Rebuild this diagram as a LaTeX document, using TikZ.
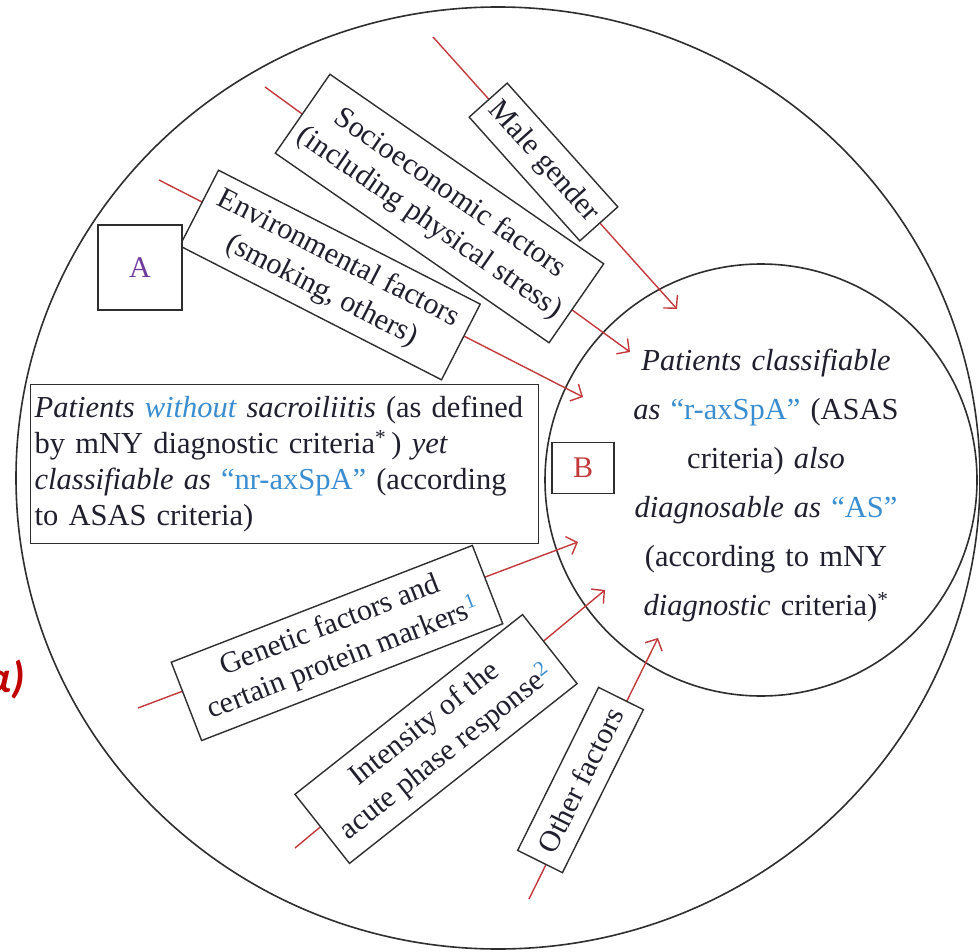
\documentclass[tikz,border=0pt]{standalone}
\usepackage{fontspec}
\setmainfont{Liberation Serif}
\newfontfamily\alphafont{Carlito}
\usetikzlibrary{arrows.meta}

\definecolor{inkc}{HTML}{1F1F2E}
\definecolor{bluec}{HTML}{3A8DD0}
\definecolor{redc}{HTML}{C4383C}
\definecolor{purplec}{HTML}{6E3A9E}
\definecolor{alphared}{HTML}{C00000}
\definecolor{framec}{HTML}{2E2E2E}

\newcommand{\hl}[1]{\textcolor{bluec}{#1}}

\tikzset{
  ring/.style={draw=framec, line width=1.6pt},
  factorbox/.style={draw=framec, line width=1.4pt, fill=white, inner sep=0pt,
    align=center, text=inkc, font=\fontsize{30}{36}\selectfont},
  letterbox/.style={draw=framec, line width=1.4pt, fill=white, inner sep=0pt,
    font=\fontsize{30}{30}\selectfont},
  influence/.style={draw=redc, line width=1.4pt, -{Straight Barb[length=9pt,width=19pt]}},
}

\begin{document}
\begin{tikzpicture}[x=1pt,y=-1pt]
\useasboundingbox (0,0) rectangle (980,952);

% outer population and inner subgroup
\draw[ring] (498,478) ellipse [x radius=482, y radius=471];
\draw[ring] (761,480) circle [radius=216];

% free ends of the influence arrows
\coordinate (maleS) at (433,37);   \coordinate (maleT) at (677,309);
\coordinate (socS)  at (265,87);   \coordinate (socT)  at (630,352);
\coordinate (envS)  at (159,180);  \coordinate (envT)  at (583,397);
\coordinate (genS)  at (138,708);  \coordinate (genT)  at (578,542);
\coordinate (intS)  at (295,848);  \coordinate (intT)  at (605,590);
\coordinate (othS)  at (529,899);  \coordinate (othT)  at (658,638);

\draw[influence] (maleS) -- (maleT);
\draw[influence] (socS) -- (socT);
\draw[influence] (envS) -- (envT);
\draw[influence] (genS) -- (genT);
\draw[influence] (intS) -- (intT);
\draw[influence] (othS) -- (othT);

% factor boxes
\node[factorbox, rotate=-48.2, minimum width=166, minimum height=51] (male) at (543.5,162) {Male gender};
\node[factorbox, rotate=-34.7, minimum width=333, minimum height=96] (soc) at (439.5,208.5)
  {Socioeconomic factors\\(including physical stress)};
\node[factorbox, rotate=-27.1, minimum width=294, minimum height=85] (env) at (330,275)
  {Environmental factors\\(smoking, others)};
\node[factorbox, rotate=21.2, minimum width=323, minimum height=84] (gen) at (337,643)
  {Genetic factors and\\certain protein markers\textsuperscript{\hl{1}}};
\node[factorbox, rotate=38.3, minimum width=290, minimum height=88] (int) at (436,739)
  {Intensity of the\\acute phase response\textsuperscript{\hl{2}}};
\node[factorbox, rotate=63.6, minimum width=182, minimum height=50] (oth) at (580.5,780)
  {Other factors};

% region labels
\node[letterbox, minimum width=84, minimum height=85, text=purplec] (boxA) at (140,267.5) {A};
\node[letterbox, minimum width=62, minimum height=51, text=redc] (boxB) at (583,468) {B};

% description of the non-radiographic group
\node[draw=framec, line width=1.4pt, fill=white, anchor=north west,
  inner xsep=4pt, inner ysep=0pt, minimum height=159pt, text width=500pt, align=left, text=inkc,
  font=\fontsize{30.5}{36}\selectfont] (nr) at (30,384)
  {\mbox{\textit{Patients \hl{without} sacroiliitis} (as defined}\\
   \mbox{by mNY diagnostic criteria\textsuperscript{*}\,) \textit{yet}}\\
   \mbox{\textit{classifiable as} \hl{“nr-axSpA”} (according}\\
   \mbox{to ASAS criteria)}};

% description of the radiographic group
\node[anchor=north, inner sep=0pt, text width=330pt, align=center, text=inkc,
  font=\fontsize{30.5}{49}\selectfont] (r) at (766,349)
  {\textit{Patients classifiable}\\
   \textit{as} \hl{“r-axSpA”} (ASAS\\
   criteria) \textit{also}\\
   \textit{diagnosable as} \hl{“AS”}\\
   (according to mNY\\
   \textit{diagnostic} criteria)\textsuperscript{*}};

\node[anchor=base east, inner sep=0pt, text=alphared,
  font=\alphafont\bfseries\itshape\fontsize{44}{48}\selectfont] (alpha) at (25,692) {α)};
\end{tikzpicture}
\end{document}
